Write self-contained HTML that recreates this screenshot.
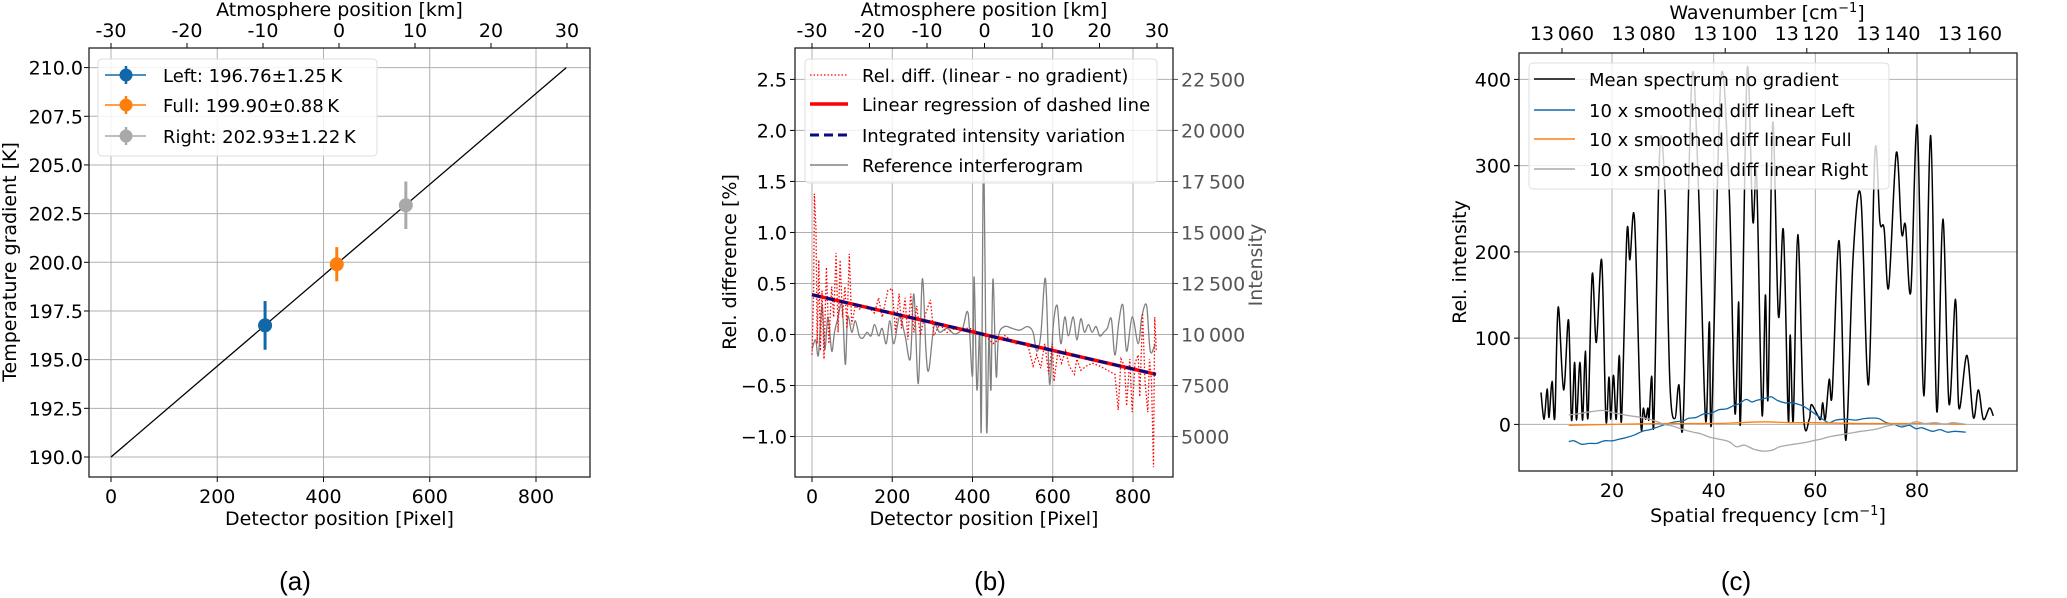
<!DOCTYPE html>
<html><head><meta charset="utf-8"><style>
html,body{margin:0;padding:0;background:#fff;}
svg{display:block;font-family:"DejaVu Sans","Liberation Sans",sans-serif;}
.plabel{font-family:"Liberation Sans",sans-serif;}
</style></head><body>
<svg id="fig" width="2067" height="598" viewBox="0 0 2067 598" xmlns="http://www.w3.org/2000/svg"></svg>
<script>
// ---------- Panel (a) data ----------
const aNames = ["Left: 196.76\u00b11.25\u2009K","Full: 199.90\u00b10.88\u2009K","Right: 202.93\u00b11.22\u2009K"];
const aPixel = [290, 425, 555];
const aTemp = [196.76, 199.90, 202.93];
const aErr = [1.25, 0.88, 1.22];
const aLineX = [0, 857];
const aLineY = [190, 210];
const aYTicks = [190.0,192.5,195.0,197.5,200.0,202.5,205.0,207.5,210.0];
const pxTicks = [0,200,400,600,800];
const kmTicks = [-30,-20,-10,0,10,20,30];

// ---------- Panel (b) data ----------
const bRelDiff = [[0,-0.20],[4,0.40],[6,1.38],[10,1.03],[13,-0.09],[17,0.73],[21,-0.16],[25,0.43],[30,-0.24],[36,0.66],[42,-0.09],[49,0.47],[54,0.17],[60,0.80],[65,0.02],[70,0.73],[76,0.17],[82,0.47],[87,0.06],[93,0.79],[99,0.10],[108,0.28],[118,0.25],[137,0.28],[156,0.21],[166,0.36],[175,0.17],[189,0.43],[200,0.45],[208,0.02],[217,0.40],[223,0.06],[232,0.36],[239,-0.05],[246,0.40],[254,0.02],[261,0.28],[270,-0.01],[280,0.17],[295,0.34],[304,-0.01],[318,0.10],[337,0.02],[356,0.06],[394,0.06],[432,-0.01],[451,-0.09],[480,-0.01],[508,-0.09],[537,-0.09],[551,-0.31],[560,-0.20],[570,-0.33],[580,-0.09],[590,-0.39],[599,-0.09],[603,-0.46],[613,-0.16],[622,-0.28],[632,-0.16],[641,-0.31],[654,-0.39],[660,-0.24],[670,-0.35],[684,-0.31],[698,-0.28],[717,-0.31],[736,-0.35],[755,-0.39],[763,-0.74],[770,-0.24],[779,-0.31],[784,-0.70],[792,-0.24],[798,-0.76],[805,-0.28],[813,-0.20],[817,-0.61],[824,0.21],[830,-0.46],[837,-0.76],[841,-0.24],[846,-0.46],[851,-1.30],[854,0.17],[858,-0.16]];
const bRegX = [0, 857];
const bRegY = [0.39, -0.39];
const bInterf = [[0,9270],[9,9740],[16,8990],[25,11420],[32,9270],[40,10860],[49,9180],[56,10110],[64,10770],[75,11420],[83,8530],[89,10860],[99,10110],[108,10670],[118,9930],[127,9830],[137,10110],[147,9930],[156,10490],[166,9930],[175,10300],[185,9550],[194,10670],[204,9550],[218,10860],[232,9930],[245,8810],[254,11980],[265,7590],[275,12720],[284,9180],[291,8250],[304,10390],[318,10110],[337,10300],[356,10020],[375,10300],[389,11040],[400,7970],[404,12820],[411,7310],[418,10110],[422,5450],[428,19440],[435,5450],[441,9930],[446,7310],[451,12720],[459,7970],[465,9930],[480,10390],[499,10300],[518,10210],[537,10390],[551,10110],[560,9180],[570,9930],[582,12720],[592,7590],[601,10390],[611,11420],[620,9550],[630,10860],[639,9930],[651,10860],[660,9740],[670,10770],[679,10110],[689,10490],[698,10110],[708,10390],[717,9930],[727,10110],[736,10300],[746,10770],[755,8990],[765,10670],[775,11420],[784,9180],[798,10860],[813,9550],[822,10860],[834,11420],[843,9180],[855,9550]];
const bYTicks = [-1.0,-0.5,0.0,0.5,1.0,1.5,2.0,2.5];
const bYTickLabels = ["\u22121.0","\u22120.5","0.0","0.5","1.0","1.5","2.0","2.5"];
const bRTicks = [5000,7500,10000,12500,15000,17500,20000,22500];
const bRTickLabels = ["5000","7500","10\u2009000","12\u2009500","15\u2009000","17\u2009500","20\u2009000","22\u2009500"];

// ---------- Panel (c) data ----------
const cSpectrum = [[6.04,37],[6.64,6],[7.24,41],[7.61,8],[8.21,50],[8.74,8],[9.41,136],[10.47,40],[11.44,121],[12.04,5],[12.64,72],[13.02,5],[13.69,72],[14.22,5],[14.74,85],[15.27,8],[16.10,174],[16.92,95],[17.97,190],[18.80,6],[19.40,55],[19.77,6],[20.30,57],[20.83,6],[21.43,80],[21.88,6],[22.93,221],[23.53,191],[24.43,238],[25.63,6],[26.16,19],[26.61,6],[27.06,19],[27.28,6],[27.81,56],[28.26,6],[29.38,318],[30.44,266],[31.41,45],[32.39,7],[33.14,46],[34.04,10],[35.69,399],[37.04,271],[38.39,6],[39.14,119],[39.59,6],[41.40,399],[43.05,271],[44.17,14],[44.92,142],[45.30,6],[46.58,410],[47.70,236],[48.45,288],[49.50,12],[50.18,150],[50.71,32],[51.61,350],[52.73,126],[53.71,225],[54.68,5],[55.06,104],[55.66,5],[56.56,220],[57.69,10],[58.81,6],[59.19,23],[60.32,12],[61.07,6],[61.44,25],[61.97,6],[62.72,52],[63.32,36],[64.67,213],[65.72,5],[66.32,8],[67.45,196],[68.95,264],[70.45,46],[71.73,317],[72.70,235],[73.53,227],[74.43,159],[75.93,315],[76.98,222],[77.73,231],[78.78,154],[80.06,346],[81.34,33],[82.69,335],[83.89,15],[85.09,238],[86.29,24],[87.57,145],[88.24,19],[89.82,80],[91.10,8],[92.07,40],[93.05,6],[94.25,19],[95.00,10]];
const cLeft = [[11.5,-20],[12.5,-19],[14,-23],[15.5,-22],[17,-22],[18.5,-19],[20,-19],[21.5,-17],[23,-15],[24.5,-12],[26,-8],[27.5,-6],[29,-3],[30.5,0],[32.5,3],[34,4],[35,7],[36.5,8],[38,12],[39.5,13],[41,17],[42.5,18],[44,22],[45,24],[46.4,29],[47.5,26],[48.5,28],[50,30],[51.3,32],[52.5,28],[54,25],[55.5,25],[57.3,22],[58.5,18],[59.5,14],[61,8],[62.6,2],[64,5],[66,6],[68,5],[70,7],[72.3,7],[74,2],[75.5,0],[77,-3],[78.5,-1],[79.8,-5],[81,-4],[83,-8],[84.5,-6],[86,-9],[87.5,-8],[89.6,-9]];
const cFull = [[11.5,-1],[20,0],[30,1],[40,1],[45,2],[50,3],[55,2],[60,2],[70,1],[80,1],[89.6,0]];
const cRight = [[11.5,11],[13,12],[15,14],[17.5,16],[19,16],[19.8,14],[21.5,12],[23.5,10],[25.8,8],[28,5],[30.3,0],[32,-2],[34,-6],[36,-9],[37.5,-11],[39.3,-15],[41,-17],[43,-20],[44.5,-26],[46,-24],[48,-29],[49.8,-31],[51.5,-30],[53,-26],[55.8,-23],[58,-21],[59.5,-19],[61.1,-17],[63,-14],[65,-12],[67.1,-10],[69,-8],[70.5,-7],[72.3,-5],[74,-2],[76,0],[77.5,-1],[79.8,3],[81.5,1],[83.6,2],[85.5,0],[87,2],[89.6,0]];
const cYTicks = [0,100,200,300,400];
const cXTicks = [20,40,60,80];
const cTopTicks = [13060,13080,13100,13120,13140,13160];
const cTopLabels = ["13\u2009060","13\u2009080","13\u2009100","13\u2009120","13\u2009140","13\u2009160"];

// ---------- helpers ----------
const NS = "http://www.w3.org/2000/svg";
const svg = document.getElementById('fig');
function mk(tag, attrs, parent, text){
  const e = document.createElementNS(NS, tag);
  for (const k in attrs) e.setAttribute(k, attrs[k]);
  if (text !== undefined) e.textContent = text;
  (parent || svg).appendChild(e);
  return e;
}
function lin(d0,d1,p0,p1){ return v => p0 + (v-d0)*(p1-p0)/(d1-d0); }
function smoothPath(pts){
  let d = "M"+pts[0][0].toFixed(1)+","+pts[0][1].toFixed(1);
  for (let i=0;i<pts.length-1;i++){
    const p0=pts[Math.max(0,i-1)], p1=pts[i], p2=pts[i+1], p3=pts[Math.min(pts.length-1,i+2)];
    const c1=[p1[0]+(p2[0]-p0[0])/6, p1[1]+(p2[1]-p0[1])/6];
    const c2=[p2[0]-(p3[0]-p1[0])/6, p2[1]-(p3[1]-p1[1])/6];
    d += " C"+c1[0].toFixed(1)+","+c1[1].toFixed(1)+" "+c2[0].toFixed(1)+","+c2[1].toFixed(1)+" "+p2[0].toFixed(1)+","+p2[1].toFixed(1);
  }
  return d;
}
const FS = 19;
const LFS = 18;
const GRID = "#b0b0b0";

// ================= Panel (a) =================
(function(){
  const L=89,R=590,T=48,B=477;
  const X = lin(0,800,111,536), Y = lin(190,210,457,67.6), K = lin(-30,30,111,567);
  const g = mk('g',{});
  
  
  pxTicks.forEach(v=>{ mk('line',{x1:X(v),x2:X(v),y1:T,y2:B,stroke:GRID,'stroke-width':1},g);
    mk('line',{x1:X(v),x2:X(v),y1:B,y2:B+5,stroke:'#000'},g);
    const t=mk('text',{x:X(v),y:B+26,'text-anchor':'middle','font-size':FS},g,String(v));
      });
  aYTicks.forEach(v=>{ mk('line',{x1:L,x2:R,y1:Y(v),y2:Y(v),stroke:GRID,'stroke-width':1},g);
    mk('line',{x1:L-5,x2:L,y1:Y(v),y2:Y(v),stroke:'#000'},g);
    const t=mk('text',{x:L-6,y:Y(v)+7,'text-anchor':'end','font-size':FS},g,v.toFixed(1));
      });
  kmTicks.forEach(v=>{ mk('line',{x1:K(v),x2:K(v),y1:T-5,y2:T,stroke:'#000'},g);
    const t=mk('text',{x:K(v),y:T-11,'text-anchor':'middle','font-size':FS},g,String(v));
      });
  const ln=mk('line',{x1:X(aLineX[0]),y1:Y(aLineY[0]),x2:X(aLineX[1]),y2:Y(aLineY[1]),stroke:'#000','stroke-width':1.3},g);
   
  const cols=['#1068a8','#ff7f0e','#a9a9a9'];
  aPixel.forEach((p,i)=>{
    const eb=mk('line',{x1:X(p),x2:X(p),y1:Y(aTemp[i]-aErr[i]),y2:Y(aTemp[i]+aErr[i]),stroke:cols[i],'stroke-width':3},g);
     
    const c=mk('circle',{cx:X(p),cy:Y(aTemp[i]),r:7,fill:cols[i]},g);
     
  });
  mk('rect',{x:L,y:T,width:R-L,height:B-T,fill:'none',stroke:'#222','stroke-width':1.3},g);
  const lg=mk('g',{},g);  
  mk('rect',{x:98,y:59,width:279,height:97,rx:4,fill:'#fff','fill-opacity':0.85,stroke:'#ddd'},lg);
  [75,105,136].forEach((y,i)=>{
    mk('line',{x1:105,x2:146,y1:y,y2:y,stroke:cols[i],'stroke-width':1.5},lg);
    mk('line',{x1:126,x2:126,y1:y-9,y2:y+9,stroke:cols[i],'stroke-width':2.5},lg);
    mk('circle',{cx:126,cy:y,r:6.5,fill:cols[i]},lg);
    const t=mk('text',{x:163,y:y+7,'font-size':LFS},lg,aNames[i]);
     
  });
  let t=mk('text',{x:(L+R)/2,y:525,'text-anchor':'middle','font-size':FS},g,'Detector position [Pixel]');
   
  t=mk('text',{x:(L+R)/2,y:16,'text-anchor':'middle','font-size':FS},g,'Atmosphere position [km]');
   
  t=mk('text',{x:0,y:0,'text-anchor':'middle','font-size':FS,transform:'translate(16,262) rotate(-90)'},g,'Temperature gradient [K]');
   
  t=mk('text',{x:295,y:590,'text-anchor':'middle','font-size':26,'class':'plabel'},g,'(a)');
   
})();

// ================= Panel (b) =================
(function(){
  const L=795,R=1173,T=48,B=477;
  const X = lin(0,800,812,1133), Y = lin(0,2.5,334.5,79.4), YI = lin(10000,22500,334.5,79.4), K = lin(-30,30,812,1157);
  const g = mk('g',{});
  
  
  pxTicks.forEach(v=>{ mk('line',{x1:X(v),x2:X(v),y1:T,y2:B,stroke:GRID},g);
    mk('line',{x1:X(v),x2:X(v),y1:B,y2:B+5,stroke:'#000'},g);
    const t=mk('text',{x:X(v),y:B+26,'text-anchor':'middle','font-size':FS},g,String(v));
      });
  bYTicks.forEach((v,i)=>{ mk('line',{x1:L,x2:R,y1:Y(v),y2:Y(v),stroke:GRID},g);
    mk('line',{x1:L-5,x2:L,y1:Y(v),y2:Y(v),stroke:'#000'},g);
    const t=mk('text',{x:L-8,y:Y(v)+7,'text-anchor':'end','font-size':FS},g,bYTickLabels[i]);
      });
  bRTicks.forEach((v,i)=>{ mk('line',{x1:R,x2:R+5,y1:YI(v),y2:YI(v),stroke:'#555'},g);
    const t=mk('text',{x:R+8,y:YI(v)+7,'font-size':FS,fill:'#555'},g,bRTickLabels[i]);
      });
  kmTicks.forEach(v=>{ mk('line',{x1:K(v),x2:K(v),y1:T-5,y2:T,stroke:'#000'},g);
    const t=mk('text',{x:K(v),y:T-11,'text-anchor':'middle','font-size':FS},g,String(v));
      });
  const cp=mk('clipPath',{id:'clipb'},g); mk('rect',{x:L,y:T,width:R-L,height:B-T},cp);
  const pg=mk('g',{'clip-path':'url(#clipb)'},g);
  let p=mk('path',{d:smoothPath(bInterf.map(d=>[X(d[0]),YI(d[1])])),fill:'none',stroke:'#808080','stroke-width':1.3},pg);
   
  p=mk('path',{d:'M'+bRelDiff.map(d=>X(d[0]).toFixed(1)+','+Y(d[1]).toFixed(1)).join(' L'),fill:'none',stroke:'#ff0000','stroke-width':1.3,'stroke-dasharray':'1.5 2'},pg);
   
  p=mk('line',{x1:X(bRegX[0]),y1:Y(bRegY[0]),x2:X(bRegX[1]),y2:Y(bRegY[1]),stroke:'#ff0000','stroke-width':3.5},pg);
   
  p=mk('line',{x1:X(bRegX[0]),y1:Y(bRegY[0]),x2:X(bRegX[1]),y2:Y(bRegY[1]),stroke:'#0a0a80','stroke-width':3,'stroke-dasharray':'9 5'},pg);
   
  mk('rect',{x:L,y:T,width:R-L,height:B-T,fill:'none',stroke:'#222','stroke-width':1.3},g);
  const lg=mk('g',{},g);  
  mk('rect',{x:805,y:59,width:352,height:124,rx:4,fill:'#fff','fill-opacity':0.8,stroke:'#ddd'},lg);
  const names=['Rel. diff. (linear - no gradient)','Linear regression of dashed line','Integrated intensity variation','Reference interferogram'];
  const st=[{stroke:'#f00','stroke-width':1.3,'stroke-dasharray':'1.5 2'},{stroke:'#f00','stroke-width':3.5},{stroke:'#0a0a80','stroke-width':3,'stroke-dasharray':'9 5'},{stroke:'#808080','stroke-width':1.5}];
  [75,104,135,165].forEach((y,i)=>{
    mk('line',Object.assign({x1:810,x2:848,y1:y,y2:y},st[i]),lg);
    const t=mk('text',{x:862,y:y+7,'font-size':LFS},lg,names[i]);
     
  });
  let t=mk('text',{x:(L+R)/2,y:525,'text-anchor':'middle','font-size':FS},g,'Detector position [Pixel]');
   
  t=mk('text',{x:(L+R)/2,y:16,'text-anchor':'middle','font-size':FS},g,'Atmosphere position [km]');
   
  t=mk('text',{x:0,y:0,'text-anchor':'middle','font-size':FS,transform:'translate(736,262) rotate(-90)'},g,'Rel. difference [%]');
   
  t=mk('text',{x:0,y:0,'text-anchor':'middle','font-size':FS,fill:'#555',transform:'translate(1262,265) rotate(-90)'},g,'Intensity');
   
  t=mk('text',{x:990,y:590,'text-anchor':'middle','font-size':26,'class':'plabel'},g,'(b)');
   
})();

// ================= Panel (c) =================
(function(){
  const L=1519,R=2017,T=53,B=471;
  const X = lin(20,80,1612,1917), Y = lin(0,400,424.4,79.4), W = lin(13060,13160,1562,1970);
  const g = mk('g',{});
  
  
  cXTicks.forEach(v=>{ mk('line',{x1:X(v),x2:X(v),y1:T,y2:B,stroke:GRID},g);
    mk('line',{x1:X(v),x2:X(v),y1:B,y2:B+5,stroke:'#000'},g);
    const t=mk('text',{x:X(v),y:B+26,'text-anchor':'middle','font-size':FS},g,String(v));
      });
  cYTicks.forEach(v=>{ mk('line',{x1:L,x2:R,y1:Y(v),y2:Y(v),stroke:GRID},g);
    mk('line',{x1:L-5,x2:L,y1:Y(v),y2:Y(v),stroke:'#000'},g);
    const t=mk('text',{x:L-8,y:Y(v)+7,'text-anchor':'end','font-size':FS},g,String(v));
      });
  cTopTicks.forEach((v,i)=>{ mk('line',{x1:W(v),x2:W(v),y1:T-5,y2:T,stroke:'#000'},g);
    const t=mk('text',{x:W(v),y:T-13,'text-anchor':'middle','font-size':FS},g,cTopLabels[i]);
      });
  const cp=mk('clipPath',{id:'clipc'},g); mk('rect',{x:L,y:T,width:R-L,height:B-T},cp);
  const pg=mk('g',{'clip-path':'url(#clipc)'},g);
  const series=[[cSpectrum,'#000',1.5,'mean-spectrum-line'],[cLeft,'#1068a8',1.3,'diff-left-line'],[cFull,'#ff7f0e',1.3,'diff-full-line'],[cRight,'#a9a9a9',1.3,'diff-right-line']];
  series.forEach(s=>{
    const p=mk('path',{d:smoothPath(s[0].map(d=>[X(d[0]),Y(d[1])])),fill:'none',stroke:s[1],'stroke-width':s[2]},pg);
     
  });
  mk('rect',{x:L,y:T,width:R-L,height:B-T,fill:'none',stroke:'#222','stroke-width':1.3},g);
  const lg=mk('g',{},g);  
  mk('rect',{x:1529,y:63,width:360,height:126,rx:4,fill:'#fff','fill-opacity':0.8,stroke:'#ddd'},lg);
  const names=['Mean spectrum no gradient','10 x smoothed diff linear Left','10 x smoothed diff linear Full','10 x smoothed diff linear Right'];
  const cols=['#000','#1068a8','#ff7f0e','#a9a9a9'];
  [79,110,139,169].forEach((y,i)=>{
    mk('line',{x1:1534,x2:1575,y1:y,y2:y,stroke:cols[i],'stroke-width':1.5},lg);
    const t=mk('text',{x:1589,y:y+7,'font-size':LFS},lg,names[i]);
     
  });
  let t=mk('text',{x:(L+R)/2,y:522,'text-anchor':'middle','font-size':FS},g);
  t.innerHTML='Spatial frequency [cm<tspan dy="-7" font-size="13">\u22121</tspan><tspan dy="7">]</tspan>';
   
  t=mk('text',{x:1767,y:19,'text-anchor':'middle','font-size':FS},g);
  t.innerHTML='Wavenumber [cm<tspan dy="-7" font-size="13">\u22121</tspan><tspan dy="7">]</tspan>';
   
  t=mk('text',{x:0,y:0,'text-anchor':'middle','font-size':FS,transform:'translate(1466,262) rotate(-90)'},g,'Rel. intensity');
   
  t=mk('text',{x:1736,y:590,'text-anchor':'middle','font-size':26,'class':'plabel'},g,'(c)');
   
})();
</script>
</body></html>
